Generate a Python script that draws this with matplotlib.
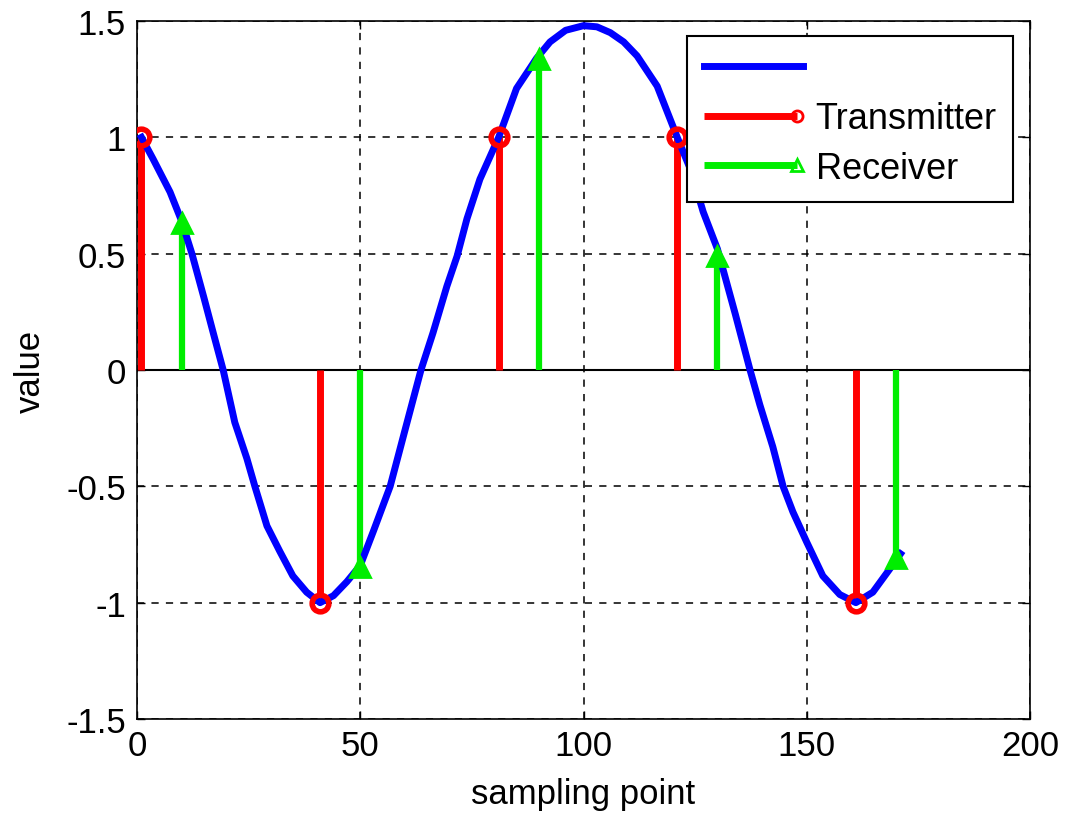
import matplotlib
matplotlib.use("Agg")
import matplotlib.pyplot as plt
from matplotlib.lines import Line2D
from matplotlib.legend_handler import HandlerBase

plt.rcParams['font.family'] = ['Liberation Sans', 'DejaVu Sans']

# ---- data ----
curve_x = [1, 3.6, 7.4, 10, 12.3, 15, 17, 19.3, 21.9, 24.6, 26.4, 29.1, 32, 34.9, 38,
           41, 44, 47, 50, 53, 56.7, 60, 63.6, 66.3, 69.4, 71.7, 73.9, 76.8, 81, 85,
           89.5, 92.5, 96, 100, 103, 106, 109, 112, 116.5, 121, 124, 126.8, 130, 134,
           137.3, 139.5, 142.4, 144.7, 146.9, 150, 153.6, 157.4, 161, 164.8, 168.6, 171]
curve_y = [1.0, 0.907, 0.765, 0.64, 0.5, 0.31, 0.165, 0.0, -0.225, -0.38, -0.5, -0.67,
           -0.78, -0.885, -0.955, -1.0, -0.97, -0.91, -0.84, -0.69, -0.5, -0.26, 0.0,
           0.16, 0.36, 0.49, 0.65, 0.82, 1.0, 1.21, 1.34, 1.41, 1.46, 1.48, 1.475, 1.45,
           1.41, 1.35, 1.22, 1.0, 0.86, 0.68, 0.52, 0.24, 0.0, -0.15, -0.33, -0.5, -0.61,
           -0.74, -0.885, -0.965, -1.0, -0.955, -0.855, -0.79]

tx_x = [1, 41, 81, 121, 161]
tx_y = [1, -1, 1, 1, -1]
rx_x = [10, 50, 90, 130, 170]
rx_y = [0.63, -0.845, 1.335, 0.49, -0.81]

xticks = [0, 50, 100, 150, 200]
xticklabels = ['0', '50', '100', '150', '200']
yticks = [-1.5, -1, -0.5, 0, 0.5, 1, 1.5]
yticklabels = ['-1.5', '-1', '-0.5', '0', '0.5', '1', '1.5']
labels = [' ', 'Transmitter', 'Receiver']

FS = 25

# ---- figure ----
fig = plt.figure(figsize=(10.65, 8.2), dpi=100)
ax = fig.add_axes([137/1065, 1-720/820, (1030-137)/1065, (720-22)/820])

ax.set_xlim(0, 200)
ax.set_ylim(-1.5, 1.5)

ax.set_xticks(xticks)
ax.set_xticklabels(xticklabels)
ax.set_yticks(yticks)
ax.set_yticklabels(yticklabels)
ax.grid(True, color='black', linestyle=(0, (4, 4)), linewidth=1.3, alpha=0.85)
ax.set_axisbelow(True)

# baseline
ax.axhline(0, color='black', linewidth=1.5, zorder=2)

# stems
for x, y in zip(tx_x, tx_y):
    ax.plot([x, x], [0, y], color='#ff0000', linewidth=5, solid_capstyle='butt', zorder=3)
for x, y in zip(rx_x, rx_y):
    ax.plot([x, x], [0, y], color='#00ee00', linewidth=4.5, solid_capstyle='butt', zorder=3)

curve, = ax.plot(curve_x, curve_y, color='#0000ff', linewidth=5, zorder=4,
                 solid_joinstyle='round')

ax.plot(tx_x, tx_y, linestyle='none', marker='o', markersize=12,
        markerfacecolor='none', markeredgecolor='#ff0000', markeredgewidth=4, zorder=5)
ax.plot(rx_x, rx_y, linestyle='none', marker='^', markersize=14,
        markerfacecolor='#00ee00', markeredgecolor='#00ee00', markeredgewidth=2, zorder=5)

ax.tick_params(direction='in', length=6, width=1, top=True, right=True,
               labelsize=FS, colors='black')
ax.tick_params(axis='y', pad=8)
ax.tick_params(axis='x', pad=7)
for s in ax.spines.values():
    s.set_linewidth(1.2)
    s.set_color('black')

ax.set_xlabel('sampling point', fontsize=FS, labelpad=11)
ax.set_ylabel('value', fontsize=FS, labelpad=14)


class HandlerStemH(HandlerBase):
    def __init__(self, color, marker, ms, lw, **kw):
        super().__init__(**kw)
        self.c = color; self.m = marker; self.ms = ms; self.lw = lw

    def create_artists(self, legend, orig_handle, xdescent, ydescent, width, height,
                       fontsize, trans):
        y = height / 2 - ydescent
        line = Line2D([-xdescent, width - xdescent - 4], [y, y], color=self.c,
                      linewidth=self.lw, solid_capstyle='butt')
        mk = Line2D([width - xdescent - 4], [y], linestyle='none', marker=self.m,
                    markersize=self.ms, markerfacecolor='none', markeredgecolor=self.c,
                    markeredgewidth=2)
        line.set_transform(trans)
        mk.set_transform(trans)
        return [line, mk]


h_tx = Line2D([], [], color='#ff0000')
h_rx = Line2D([], [], color='#00ee00')
leg = ax.legend([curve, h_tx, h_rx], labels,
                handler_map={h_tx: HandlerStemH('#ff0000', 'o', 8, 5),
                             h_rx: HandlerStemH('#00ee00', '^', 9, 5)},
                loc='upper right', bbox_to_anchor=(0.981, 0.979), borderaxespad=0,
                fancybox=False, framealpha=1, edgecolor='black', fontsize=26,
                handlelength=2.75, handletextpad=0.35, labelspacing=0.4, borderpad=0.45)
leg.get_frame().set_linewidth(1.5)

fig.savefig('out.png', dpi=100)
